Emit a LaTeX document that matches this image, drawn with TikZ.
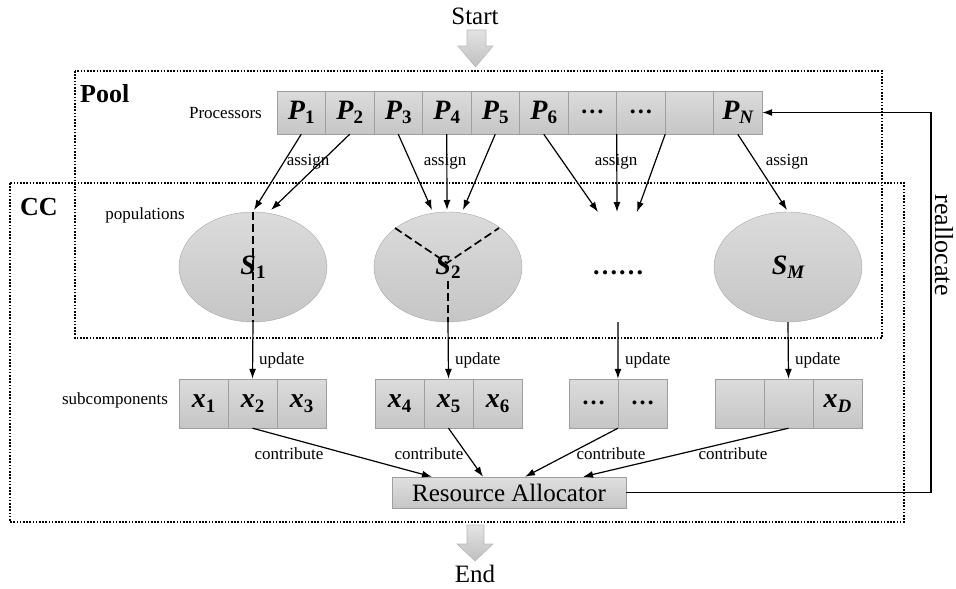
\documentclass[tikz,border=0pt]{standalone}
\usepackage{fontspec}
\setmainfont{Liberation Serif}
\usetikzlibrary{shapes.geometric,arrows.meta,calc}
\newcommand\vv[2]{{\bfseries\itshape #1}\raisebox{-0.35ex}{\fontsize{19}{19}\selectfont\bfseries #2}}
\tikzset{
  cell/.style={rectangle,draw=gray!75,top color=gray!28,bottom color=gray!45,minimum width=48.5pt,minimum height=43pt,inner sep=0pt,font=\fontsize{28}{30}\selectfont},
  xcell/.style={cell,minimum height=49pt},
  popu/.style={ellipse,draw=gray!70,top color=gray!28,bottom color=gray!45,minimum width=148pt,minimum height=110pt,inner sep=0pt,font=\fontsize{28}{30}\selectfont},
  lbl/.style={font=\fontsize{17}{19}\selectfont,inner sep=1pt},
  big/.style={font=\fontsize{25}{27}\selectfont,inner sep=0pt},
  head/.style={font=\fontsize{26}{28}\selectfont\bfseries,inner sep=0pt},
  conn/.style={line width=1.2pt,-{Latex[length=10pt,width=7pt]}},
  plain/.style={line width=1.2pt},
  dsh/.style={line width=1.7pt,dash pattern=on 8pt off 4pt},
  dotbox/.style={line width=1.6pt,dash pattern=on 1.6pt off 1.6pt},
  blockarrow/.style={draw=gray!55,top color=gray!22,bottom color=gray!50,line width=0.6pt}
}
\begin{document}
\begin{tikzpicture}[x=1pt,y=-1pt]
\useasboundingbox (0,0) rectangle (956,589);
% dotted regions
\draw[dotbox] (75,71) rectangle (882,338);
\draw[dotbox] (10,183) rectangle (904,522);
\node[head,anchor=west] (pool) at (80,94) {Pool};
\node[head,anchor=west] (cc) at (20,207) {CC};
% start / end
\node[big] (start) at (475,16) {Start};
\path[blockarrow] (467,30) -- (486,30) -- (486,46) -- (493,46) -- (475.5,67) -- (458,46) -- (467,46) -- cycle;
\path[blockarrow] (467,525) -- (484,525) -- (484,544) -- (493,544) -- (475,561) -- (457,544) -- (467,544) -- cycle;
\node[big] (end) at (475,574) {End};
% processors
\node[lbl,anchor=east] (proc) at (263,113) {Processors};
\node[cell] (p1) at (301.25,112.5) {\vv{P}{1}};
\node[cell] (p2) at (349.75,112.5) {\vv{P}{2}};
\node[cell] (p3) at (398.25,112.5) {\vv{P}{3}};
\node[cell] (p4) at (446.75,112.5) {\vv{P}{4}};
\node[cell] (p5) at (495.25,112.5) {\vv{P}{5}};
\node[cell] (p6) at (543.75,112.5) {\vv{P}{6}};
\node[cell] (p7) at (592.25,112.5) {\textbf{\fontsize{24}{24}\selectfont\raisebox{0.2ex}{…}}};
\node[cell] (p8) at (640.75,112.5) {\textbf{\fontsize{24}{24}\selectfont\raisebox{0.2ex}{…}}};
\node[cell] (p9) at (689.25,112.5) {};
\node[cell] (p10) at (737.75,112.5) {\vv{P}{\itshape N}};
% populations
\node[lbl] (poplbl) at (145,215) {populations};
\node[popu] (s1) at (253,267) {\vv{S}{1}};
\node[popu] (s2) at (448,267) {\vv{S}{2}};
\node[popu] (sm) at (788,267) {\vv{S}{\itshape M}};
\node[font=\fontsize{26}{28}\selectfont\bfseries,inner sep=0pt] (sdots) at (618,273) {……};
% assign arrows
\coordinate (t1a) at (254,210);
\coordinate (t1b) at (271,210);
\coordinate (t2a) at (432,210);
\coordinate (t2b) at (447,210);
\coordinate (t2c) at (463,210);
\coordinate (tda) at (598,212);
\coordinate (tdb) at (617,212);
\coordinate (tdc) at (637,212);
\coordinate (tm) at (787,210);
\draw[conn] (p1.south) -- (t1a);
\draw[conn] (p2.south) -- (t1b);
\draw[conn] (p3.south) -- (t2a);
\draw[conn] (p4.south) -- (t2b);
\draw[conn] (p5.south) -- (t2c);
\draw[conn] (p6.south) -- (tda);
\draw[conn] (p7.south east) -- (tdb);
\draw[conn] (p8.south east) -- (tdc);
\draw[conn] (p10.south) -- (tm);
\node[lbl] (as1) at (308,162) {assign};
\node[lbl] (as2) at (445,162) {assign};
\node[lbl] (as3) at (616,162) {assign};
\node[lbl] (as4) at (787,162) {assign};
% dashed partitions
\draw[dsh] (s1.north) -- (s1.south);
\coordinate (c2) at (447,263);
\coordinate (c2l) at (395,228);
\coordinate (c2r) at (499,228);
\coordinate (c2d) at (448,281);
\draw[dsh] (c2l) -- (c2) -- (c2r);
\draw[dsh] (c2d) -- (s2.south);
% subcomponents
\node[lbl] (sublbl) at (115,400) {subcomponents};
\node[xcell] (x1) at (203.5,403.5) {\vv{x}{1}};
\node[xcell] (x2) at (252.5,403.5) {\vv{x}{2}};
\node[xcell] (x3) at (301.5,403.5) {\vv{x}{3}};
\node[xcell] (x4) at (399.5,403.5) {\vv{x}{4}};
\node[xcell] (x5) at (448.5,403.5) {\vv{x}{5}};
\node[xcell] (x6) at (497.5,403.5) {\vv{x}{6}};
\node[xcell] (xa) at (593.5,403.5) {\textbf{\fontsize{24}{24}\selectfont\raisebox{0.2ex}{…}}};
\node[xcell] (xb) at (642.5,403.5) {\textbf{\fontsize{24}{24}\selectfont\raisebox{0.2ex}{…}}};
\node[xcell] (xc) at (739.5,403.5) {};
\node[xcell] (xd) at (788.5,403.5) {};
\node[xcell] (xe) at (837.5,403.5) {\vv{x}{\itshape D}};
% update arrows
\coordinate (dd) at (618,322);
\draw[conn] (s1.south) -- (x2.north);
\draw[conn] (s2.south) -- (x5.north);
\draw[conn] (dd) -- (xa.north east);
\draw[conn] (sm.south) -- (xd.north);
\node[lbl,anchor=west] (up1) at (258,360) {update};
\node[lbl,anchor=west] (up2) at (454,360) {update};
\node[lbl,anchor=west] (up3) at (624,360) {update};
\node[lbl,anchor=west] (up4) at (794,360) {update};
% resource allocator
\node[rectangle,draw=gray!75,top color=gray!25,bottom color=gray!45,minimum width=234pt,minimum height=31pt,inner sep=0pt,font=\fontsize{25}{27}\selectfont] (ra) at (509,492.5) {Resource Allocator};
\draw[conn] (x2.south) -- ($(ra.north)+(-77,0)$);
\draw[conn] (x5.south) -- ($(ra.north)+(-26,0)$);
\draw[conn] (xa.south east) -- ($(ra.north)+(16,0)$);
\draw[conn] (xd.south) -- ($(ra.north)+(74,0)$);
\node[lbl] (cb1) at (289,454) {contribute};
\node[lbl] (cb2) at (429,454) {contribute};
\node[lbl] (cb3) at (611,454) {contribute};
\node[lbl] (cb4) at (733,454) {contribute};
% reallocate
\coordinate (rc) at (931,112.5);
\draw[conn] (ra.east) -| (rc) -- (p10.east);
\node[font=\fontsize{26}{28}\selectfont,rotate=-90,inner sep=0pt] (realloc) at (944,245) {reallocate};
\end{tikzpicture}
\end{document}
